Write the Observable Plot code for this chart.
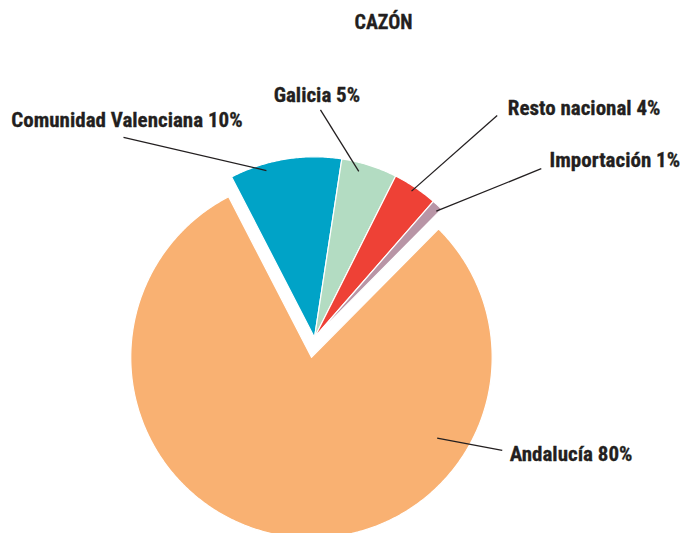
<!DOCTYPE html>
<html>
<head>
<meta charset="utf-8">
<script src="https://cdn.jsdelivr.net/npm/d3@7"></script>
<script src="https://cdn.jsdelivr.net/npm/@observablehq/plot@0.6"></script>
<style>
  html, body { margin: 0; padding: 0; background: #fff; overflow: hidden; }
  #chart svg { display: block; }
</style>
</head>
<body>
<div id="chart"></div>
<script>
// ---- Data ----
const title = "CAZÓN";
const categories = ["Comunidad Valenciana", "Galicia", "Resto nacional", "Importación", "Andalucía"];
const shares = [10, 5, 4, 1, 80];
const labels = ["Comunidad Valenciana 10%", "Galicia 5%", "Resto nacional 4%", "Importación 1%", "Andalucía 80%"];
const exploded = ["Andalucía"];

// ---- Style / layout (unit coordinates: pie radius = 1, pie centre = origin) ----
const colors = ["#00a3c7", "#b3dcc2", "#ee4136", "#b895a6", "#f9b172"];
const startDeg = -27.3;
const explodeOffset = 0.111;
// leader lines: [outer x, outer y, inner x, inner y]
const leaderLayout = [
  [-1.057, 1.107, -0.266, 0.924],
  [0.033, 1.260, 0.245, 0.919],
  [1.011, 1.229, 0.537, 0.810],
  [1.255, 0.934, 0.674, 0.699],
  [1.039, -0.625, 0.679, -0.557]
];
// label anchor (left, baseline)
const labelLayout = [
  [-1.678, 1.164],
  [-0.226, 1.302],
  [1.070, 1.229],
  [1.301, 0.946],
  [1.080, -0.686]
];
const titlePos = [0.382, 1.705];

// ---- Build slices ----
const pie = d3.pie().sort(null)
  .startAngle(startDeg * Math.PI / 180)
  .endAngle(startDeg * Math.PI / 180 + 2 * Math.PI);
const arcs = pie(shares);
const slicePts = [];
arcs.forEach((a, i) => {
  const name = categories[i];
  const mid = (a.startAngle + a.endAngle) / 2;
  const off = exploded.includes(name) ? explodeOffset : 0;
  const ox = off * Math.sin(mid), oy = off * Math.cos(mid);
  slicePts.push({name, x: ox, y: oy});
  const n = Math.max(4, Math.ceil((a.endAngle - a.startAngle) / (Math.PI / 360)));
  for (let k = 0; k <= n; k++) {
    const t = a.startAngle + (a.endAngle - a.startAngle) * k / n;
    slicePts.push({name, x: ox + Math.sin(t), y: oy + Math.cos(t)});
  }
  slicePts.push({name, x: ox, y: oy});
});

const leaders = categories.map((c, i) => ({
  name: c, x1: leaderLayout[i][0], y1: leaderLayout[i][1], x2: leaderLayout[i][2], y2: leaderLayout[i][3]
}));
const labelData = categories.map((c, i) => ({name: c, text: labels[i], x: labelLayout[i][0], y: labelLayout[i][1]}));

const W = 680, H = 533, cx = 314, cy = 337, R = 180.7;
const font = "'Liberation Sans Narrow', 'Roboto Condensed', 'DejaVu Sans Condensed', 'Liberation Sans', sans-serif";

const chart = Plot.plot({
  width: W,
  height: H,
  margin: 0,
  style: {background: "#fff", overflow: "visible"},
  x: {axis: null, domain: [(0 - cx) / R, (W - cx) / R]},
  y: {axis: null, domain: [(cy - H) / R, cy / R]},
  color: {domain: categories, range: colors},
  marks: [
    Plot.line(slicePts, {x: "x", y: "y", z: "name", fill: "name", stroke: "white", strokeWidth: 1.2, curve: "linear"}),
    Plot.link(leaders, {x1: "x1", y1: "y1", x2: "x2", y2: "y2", stroke: "#231f20", strokeWidth: 1.3}),
    Plot.text(labelData, {x: "x", y: "y", text: "text", textAnchor: "start", lineAnchor: "bottom",
      fontSize: 21, fontWeight: "bold", fontFamily: font, fill: "#231f20", stroke: "#231f20", strokeWidth: 0.3}),
    Plot.text([title], {x: () => titlePos[0], y: () => titlePos[1], text: d => d, textAnchor: "middle", lineAnchor: "bottom",
      fontSize: 20, fontWeight: "bold", fontFamily: font, fill: "#231f20", stroke: "#231f20", strokeWidth: 0.3})
  ]
});
document.getElementById("chart").appendChild(chart);
</script>
</body>
</html>
